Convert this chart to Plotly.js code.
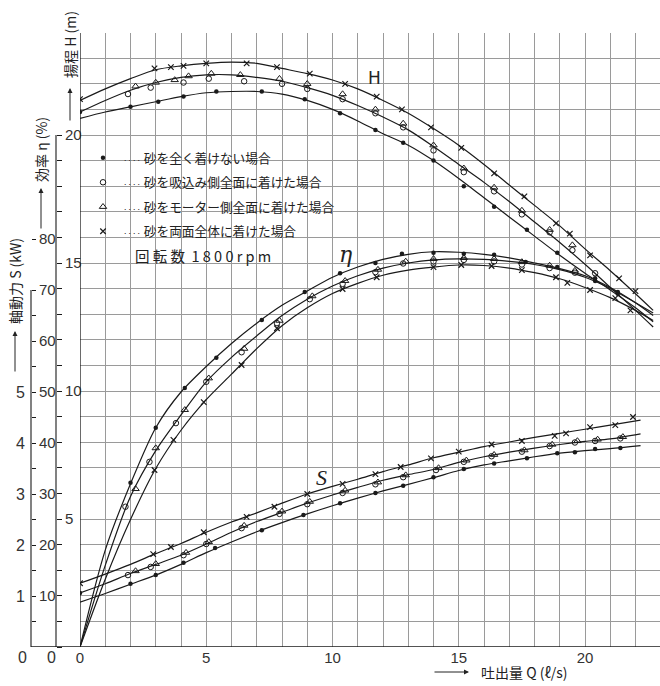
<!DOCTYPE html>
<html><head><meta charset="utf-8">
<script src="https://cdn.plot.ly/plotly-3.0.1.min.js"></script>
<style>html,body{margin:0;padding:0;background:#fff}#chart{width:660px;height:686px}</style>
</head><body><div id="chart"></div>
<script>
// ---- curve lines (smooth fitted curves) ----
const qLine = [0,1,2,3,4,5,6,7,8,9,10,11,12,13,14,15,16,17,18,19,20,21,22,22.7];
const hLineDot = [20.65,20.9,21.1,21.3,21.5,21.65,21.7,21.7,21.6,21.35,21.0,20.55,20.05,19.6,19.0,18.3,17.55,16.8,16.05,15.3,14.6,13.95,13.25,12.7];
const hLineMid = [20.9,21.35,21.75,22.05,22.25,22.35,22.35,22.25,22.1,21.85,21.55,21.15,20.7,20.2,19.55,18.85,18.15,17.4,16.6,15.8,14.95,14.05,13.15,12.5];
const hLineX   = [21.35,21.8,22.2,22.55,22.7,22.8,22.85,22.8,22.6,22.4,22.15,21.8,21.35,20.85,20.25,19.6,18.85,18.05,17.25,16.45,15.55,14.7,13.8,13.15];
const eLineDot = [0,19,32,43,50,55,59.5,63.5,67,69.8,72.5,74.5,76,77,77.5,77.4,77,76.3,75.3,74.2,72.8,70.5,67.5,65];
const eLineMid = [0,16,29.5,38.5,45.5,52,56.8,61,65,68.2,70.8,72.8,74.3,75.3,75.9,76.1,76,75.6,75,74,72.5,70.3,67.5,65.5];
const eLineX   = [0,13.3,25,35,42.5,48.5,53.5,58.5,63,66.5,69.3,71.3,72.9,73.9,74.5,74.9,74.8,74.3,73.4,72.2,70.5,68.5,66,64];
const qLineS = [0,1,2,3,4,5,6,7,8,9,10,11,12,13,14,15,16,17,18,19,20,21,22.2];
const sLineDot = [0.88,1.05,1.23,1.41,1.62,1.85,2.06,2.26,2.44,2.61,2.77,2.92,3.06,3.19,3.32,3.46,3.57,3.65,3.73,3.8,3.85,3.89,3.95];
const sLineMid = [1.06,1.24,1.44,1.62,1.8,2.02,2.25,2.46,2.64,2.82,2.98,3.13,3.27,3.38,3.48,3.62,3.73,3.82,3.9,3.97,4.03,4.08,4.18];
const sLineX   = [1.25,1.43,1.62,1.83,2.03,2.25,2.45,2.63,2.82,3.0,3.15,3.29,3.44,3.57,3.71,3.82,3.93,4.02,4.11,4.19,4.27,4.35,4.45];

// ---- measured points: head H (m) ----
const hQDot = [0,2.0,3.1,4.1,5.4,7.2,8.9,10.3,11.7,12.8,14.0,15.2,16.4,17.7,18.9,20.4,21.3];
const hDot  = [20.9,21.1,21.3,21.5,21.7,21.7,21.4,20.85,20.2,19.7,19.0,18.0,17.2,16.3,15.4,14.3,13.8];
const hQCir = [1.9,2.8,4.1,5.1,6.5,8.0,9.0,10.4,11.7,12.8,14.0,15.2,16.4,17.5,18.6,19.5,20.4];
const hCir  = [21.6,21.85,22.05,22.2,22.1,22.0,21.8,21.4,20.85,20.3,19.4,18.55,17.8,16.9,16.2,15.5,14.6];
const hQTri = [2.2,3.0,3.75,4.3,5.2,6.35,7.9,9.0,10.4,11.7,12.8,14.0,15.2,16.4,17.5,18.6,19.5];
const hTri  = [21.9,22.05,22.15,22.3,22.4,22.35,22.2,22.0,21.6,21.0,20.45,19.6,18.7,17.95,17.05,16.3,15.7];
const hQX   = [0,2.95,3.6,4.1,5.0,6.6,7.8,9.1,10.5,11.75,12.75,13.9,15.1,16.4,17.6,18.85,19.4,20.2,21.35,22.0];
const hX    = [21.4,22.6,22.65,22.7,22.8,22.8,22.65,22.4,22.0,21.5,21.0,20.3,19.5,18.5,17.6,16.55,16.15,15.3,14.4,13.9];
// ---- efficiency η (%) ----
const eQDot = [2.0,3.0,4.15,5.4,7.2,8.9,10.3,11.7,12.75,14.0,15.2,16.4,17.65,18.9,20.4,21.3];
const eDot  = [32.2,43,50.8,56.7,64.1,69.6,73.3,75.3,77.1,77.3,77.1,76.9,75.5,74.5,72.3,69.6];
const eQCir = [1.8,2.75,3.8,5.0,6.4,7.8,9.1,10.4,11.7,12.8,14.0,15.2,16.4,17.5,18.6,19.6];
const eCir  = [27.5,36.3,43.9,52.0,57.8,63.5,68.2,71.2,73.5,75.2,75.6,75.9,75.6,75.0,74.3,73.4];
const eQTri = [2.2,3.0,4.15,5.1,6.5,7.9,9.2,10.5,11.8,12.9,14.0,15.2,16.4,17.5,18.6,19.6];
const eTri  = [31.0,39.0,46.5,52.7,58.5,64.0,68.8,71.8,74.0,75.6,76.1,76.3,76.1,75.5,74.8,73.8];
const eQX   = [2.95,3.7,4.9,6.4,7.8,10.4,11.75,14.0,15.1,16.3,17.5,18.85,19.3,20.2,21.2,21.8];
const eX    = [34.7,40.6,48.0,55.3,62.5,70.2,72.5,74.5,74.9,74.7,73.9,72.5,71.4,70.0,68.4,66.0];
// ---- shaft power S (kW) ----
const sQDot = [0,2.0,3.0,4.1,5.35,7.2,8.85,10.3,11.7,12.8,14.0,15.2,16.4,17.7,18.9,19.6,20.4,21.4];
const sDot  = [1.06,1.24,1.41,1.65,1.94,2.29,2.59,2.82,3.02,3.16,3.33,3.49,3.6,3.7,3.8,3.82,3.88,3.9];
const sQCir = [1.9,2.8,4.1,5.0,6.4,7.9,9.0,10.4,11.7,12.8,14.1,15.2,16.3,17.5,18.6,19.6,20.4,21.4];
const sCir  = [1.41,1.57,1.8,2.02,2.33,2.61,2.8,3.02,3.19,3.33,3.47,3.63,3.74,3.83,3.94,4.01,4.04,4.09];
const sQTri = [2.2,3.0,4.2,5.1,6.5,8.0,9.1,10.5,11.8,12.9,14.2,15.3,16.4,17.6,18.7,19.7,20.5,21.5];
const sTri  = [1.49,1.63,1.85,2.06,2.38,2.66,2.85,3.07,3.23,3.37,3.51,3.66,3.77,3.86,3.97,4.04,4.07,4.12];
const sQX   = [0,2.9,3.6,4.9,6.6,7.7,9.0,10.4,11.7,12.7,13.9,15.0,16.3,17.5,18.8,19.25,20.2,21.2,21.9];
const sX    = [1.25,1.82,1.96,2.25,2.55,2.75,3.0,3.2,3.39,3.53,3.7,3.83,3.97,4.04,4.14,4.19,4.31,4.35,4.51];

// ---- labels ----
const dots = '<span style="font-size:8px">····</span>';
const seriesNames = ['砂を全く着けない場合','砂を吸込み側全面に着けた場合','砂をモーター側全面に着けた場合','砂を両面全体に着けた場合'];
const xTicks = [0,5,10,15,20];
const hTickLabels = [5,10,15,20];
const eTickLabels = [10,20,30,40,50,60,70,80];
const sTickLabels = [1,2,3,4,5];

// ---- geometry helpers (pixels -> paper) ----
const W = 660, TOP = 33, BOT = 647, PH = BOT - TOP;
const px = v => v / W;
const py = v => (BOT - v) / PH;

const ink = '#1a1a1a';
const markerStyles = [
  {symbol:'circle', size:4.5, color:ink},
  {symbol:'circle-open', size:5.5, color:ink, line:{width:1, color:ink}},
  {symbol:'triangle-up-open', size:6.5, color:ink, line:{width:1, color:ink}},
  {symbol:'x-thin-open', size:5.5, color:ink, line:{width:1.2, color:ink}}
];

const traces = [];
function addLine(q, v, yax){
  traces.push({x:q, y:v, yaxis:yax, mode:'lines', type:'scatter', showlegend:false, hoverinfo:'skip',
    line:{color:ink, width:1.2, shape:'spline', smoothing:0.8}});
}
addLine(qLine, hLineDot, 'y'); addLine(qLine, hLineMid, 'y'); addLine(qLine, hLineX, 'y');
addLine(qLine, eLineDot, 'y2'); addLine(qLine, eLineMid, 'y2'); addLine(qLine, eLineX, 'y2');
addLine(qLineS, sLineDot, 'y3'); addLine(qLineS, sLineMid, 'y3'); addLine(qLineS, sLineX, 'y3');

function addMarks(q, v, yax, i, legend){
  traces.push({x:q, y:v, yaxis:yax, mode:'markers', type:'scatter', name:dots + ' ' + seriesNames[i],
    legendgroup:'g'+i, showlegend:legend, marker:markerStyles[i]});
}
addMarks(hQDot, hDot, 'y', 0, true);
addMarks(hQCir, hCir, 'y', 1, true);
addMarks(hQTri, hTri, 'y', 2, true);
addMarks(hQX, hX, 'y', 3, true);
addMarks(eQDot, eDot, 'y2', 0, false);
addMarks(eQCir, eCir, 'y2', 1, false);
addMarks(eQTri, eTri, 'y2', 2, false);
addMarks(eQX, eX, 'y2', 3, false);
addMarks(sQDot, sDot, 'y3', 0, false);
addMarks(sQCir, sCir, 'y3', 1, false);
addMarks(sQTri, sTri, 'y3', 2, false);
addMarks(sQX, sX, 'y3', 3, false);

const tickFont = {family:'Liberation Sans, DejaVu Sans, sans-serif', size:15, color:'#333'};
const gridC = '#9a9a9a';
const jp = 'Noto Sans CJK JP, sans-serif';

const hVals = [], hText = [];
for (let i = 0; i <= 20; i++){ hVals.push(i); hText.push(hTickLabels.includes(i) ? String(i) : ''); }
const eVals = [], eText = [];
for (let v = 5; v <= 70; v += 5){ eVals.push(v); eText.push(eTickLabels.includes(v) ? String(v) : ''); }
eVals.push(80); eText.push('80');

function label(text, x, y, font, extra){
  return Object.assign({text:text, xref:'paper', yref:'paper', x:px(x), y:py(y), xanchor:'center', yanchor:'middle', showarrow:false, font:font}, extra || {});
}
function arrow(xHead, yHead, ax, ay){
  return {text:'', xref:'paper', yref:'paper', x:px(xHead), y:py(yHead), ax:ax, ay:ay, showarrow:true,
    arrowhead:2, arrowsize:1, arrowwidth:1, arrowcolor:'#222'};
}
const titleFont = {family:jp, size:14, color:'#222'};
const zeroFont = {family:tickFont.family, size:16, color:'#333'};

const layout = {
  width:660, height:686,
  margin:{l:0, r:0, t:TOP, b:686-BOT, pad:0},
  paper_bgcolor:'#ffffff', plot_bgcolor:'#ffffff',
  showlegend:true,
  legend:{x:px(83), xanchor:'left', y:py(143), yanchor:'top', bgcolor:'rgba(0,0,0,0)',
    font:{family:jp, size:12.7, color:'#222'}, tracegroupgap:5, itemwidth:30, traceorder:'grouped'},
  xaxis:{domain:[80/W, 1], range:[0, 580/25.25], anchor:'y',
    tickmode:'array', tickvals:xTicks, ticktext:xTicks.map(String), ticks:'',
    showgrid:true, gridcolor:gridC, gridwidth:1, zeroline:false, showline:false,
    minor:{dtick:1, tick0:0, showgrid:true, gridcolor:gridC, gridwidth:1, ticks:''},
    tickfont:tickFont},
  yaxis:{anchor:'free', position:px(56), side:'right', range:[0, PH/25.6],
    tickmode:'array', tickvals:hVals, ticktext:hText, ticks:'outside', ticklen:5, tickcolor:ink, tickwidth:1,
    showgrid:true, gridcolor:gridC, gridwidth:1, zeroline:false, showline:false,
    minor:{dtick:1, tick0:0, showgrid:true, gridcolor:gridC, gridwidth:1, ticks:''},
    tickfont:tickFont},
  yaxis2:{overlaying:'y', anchor:'free', position:px(31), side:'right', range:[0, PH/5.1],
    tickmode:'array', tickvals:eVals, ticktext:eText, ticks:'outside', ticklen:4, tickcolor:ink,
    showgrid:false, zeroline:false, showline:false, tickfont:tickFont},
  yaxis3:{overlaying:'y', anchor:'free', position:px(31), side:'left', range:[0, PH/51],
    tickmode:'array', tickvals:sTickLabels, ticktext:sTickLabels.map(String), ticks:'outside', ticklen:3,
    tickcolor:'rgba(0,0,0,0)', showgrid:false, zeroline:false, showline:false,
    tickfont:{family:tickFont.family, size:16, color:'#333'}},
  shapes:[
    {type:'line', xref:'paper', yref:'y', x0:px(31), x1:1, y0:0, y1:0, line:{color:ink, width:1.3}},
    {type:'line', xref:'x', yref:'paper', x0:0, x1:0, y0:0, y1:1, line:{color:ink, width:1.3}},
    {type:'line', xref:'paper', yref:'y', x0:px(56), x1:px(56), y0:0, y1:20, line:{color:ink, width:1.1}},
    {type:'line', xref:'paper', yref:'y2', x0:px(31), x1:px(31), y0:0, y1:70, line:{color:ink, width:1.1}}
  ],
  annotations:[
    label('0', 22, 657, zeroFont),
    label('0', 52, 657, zeroFont),
    label('揚程 H (m)', 70, 45, titleFont, {textangle:-90}),
    arrow(70, 88, 0, 34),
    label('効率 η (%)', 41, 150, titleFont, {textangle:-90}),
    arrow(41, 188, 0, 42),
    label('軸動力 S (kW)', 15, 281, titleFont, {textangle:-90}),
    arrow(15, 331, 0, 42),
    label('吐出量 Q (ℓ/s)', 524, 672, {family:jp, size:14, color:'#222'}),
    arrow(469, 672, -36, 0),
    label('回 転 数 &nbsp;1 8 0 0 r p m', 133, 255, {family:jp, size:14.5, color:'#222'}, {xanchor:'left'}),
    label('H', 374, 78, {family:'DejaVu Sans, sans-serif', size:17, color:'#222'}),
    label('<i>η</i>', 345, 254, {family:'DejaVu Serif, serif', size:22, color:'#222'}),
    label('<i>S</i>', 321, 477, {family:'Liberation Serif, serif', size:22, color:'#222'})
  ]
};

Plotly.newPlot('chart', traces, layout, {displayModeBar:false, staticPlot:true});
</script>
</body></html>
